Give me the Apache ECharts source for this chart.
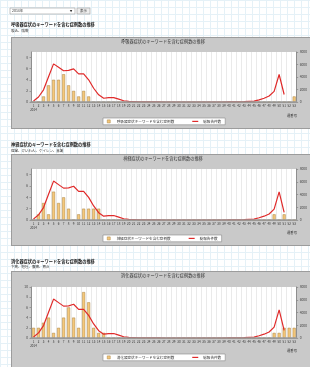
<!DOCTYPE html>
<html><head><meta charset="utf-8">
<script src="https://cdn.jsdelivr.net/npm/echarts@6/dist/echarts.min.js"></script>
<style>
html,body{margin:0;padding:0;}
#wrap{position:relative;width:310px;height:367px;overflow:hidden;background-color:#fff;
background-image:linear-gradient(#e5f1f7 1px,transparent 1px),linear-gradient(90deg,#e5f1f7 1px,transparent 1px);background-size:7px 7px;}
.panel{position:absolute;left:11px;width:310px;background:#c9c9c9;border:1px solid #9c9c9c;box-sizing:border-box;}
#c{position:absolute;left:0;top:0;width:310px;height:367px;}
</style></head><body>
<div id="wrap">
<div class="panel" style="top:37px;height:92px"></div>
<div class="panel" style="top:154px;height:92px"></div>
<div class="panel" style="top:271px;height:100px"></div>
<div id="c"></div>
</div>
<script>
const weeks = ['1','2','3','4','5','6','7','8','9','10','11','12','13','14','15','16','17','18','19','20','21','22','23','24','25','26','27','28','29','30','31','32','33','34','35','36','37','38','39','40','41','42','43','44','45','46','47','48','49','50','51','52','53'];
const yearLabel = '2014';
const weekAxisName = '週番号';
const lineName = '総報告件数';

const respiratory = [0,0,1,3,4,4,5,3,2,1,2,1,0,0,0,0,0,0,0,0,0,0,0,0,0,0,0,0,0,0,0,0,0,0,0,0,0,0,0,0,0,0,0,0,0,0,0,0,0,0,0,0,1];
const neuro =       [0,1,3,1,5,3,4,2,0,1,2,2,2,2,0,0,0,0,0,0,0,0,0,0,0,0,0,0,0,0,0,0,0,0,0,0,0,0,0,0,0,0,0,0,0,0,0,0,1,0,1,0,0];
const digestive =   [2,2,3,4,1,2,4,6,4,2,9,7,2,1,1,0,0,0,0,0,0,0,0,0,0,0,0,0,0,0,0,0,0,0,0,0,0,0,0,0,0,0,0,0,0,0,0,0,1,1,2,2,2];
const totalReports = [150,800,1950,4050,6100,5550,5000,5050,5300,4500,4500,3550,2200,1150,600,700,700,450,200,100,80,40,
  30,20,10,10,0,0,0,0,0,0,0,0,0,0,0,0,0,10,20,30,
  50,100,150,350,600,950,1700,4400,1200];

const panels = [
  {title:'呼吸器症状のキーワードを含む症例数の推移', sub:'咳込、咳嗽', inner:'呼吸器症状のキーワードを含む症例数の推移', barName:'呼吸器症状キーワードを含む症例数', data:respiratory, leftMax:9},
  {title:'神経症状のキーワードを含む症例数の推移', sub:'痙攣、けいれん、ケイレン、意識', inner:'神経症状のキーワードを含む症例数の推移', barName:'神経症状キーワードを含む症例数', data:neuro, leftMax:9},
  {title:'消化器症状のキーワードを含む症例数の推移', sub:'下痢、嘔吐、腹痛、胃炎', inner:'消化器症状のキーワードを含む症例数の推移', barName:'消化器症状キーワードを含む症例数', data:digestive, leftMax:10}
];
const layout = [
  {titleY:24, subY:31, innerY:41, gridTop:52, gridH:50, legendTop:118, weekY:116},
  {titleY:144, subY:151, innerY:158, gridTop:169, gridH:51, legendTop:235, weekY:233},
  {titleY:261, subY:267, innerY:275, gridTop:287, gridH:51, legendTop:354, weekY:351}
];

const FONT = '"Noto Sans CJK JP", "Noto Sans", sans-serif';
const grid=[], xAxis=[], yAxis=[], series=[], legend=[], graphic=[];

graphic.push({type:'rect', shape:{x:10,y:8,width:65,height:6}, style:{fill:'#fff',stroke:'#9a9a9a',lineWidth:0.6}, z:50});
graphic.push({type:'text', x:12, y:11, style:{text:'2014年', fontSize:3.5, fill:'#333', verticalAlign:'middle', fontFamily:FONT}, z:51});
graphic.push({type:'text', x:71, y:11, style:{text:'▼', fontSize:2.6, fill:'#333', verticalAlign:'middle', align:'center', fontFamily:FONT}, z:51});
graphic.push({type:'rect', shape:{x:77,y:8,width:13,height:6}, style:{fill:'#eeeeee',stroke:'#9a9a9a',lineWidth:0.6}, z:50});
graphic.push({type:'text', x:83.5, y:11, style:{text:'表示', fontSize:3.5, fill:'#333', verticalAlign:'middle', align:'center', fontFamily:FONT}, z:51});

panels.forEach((p,i)=>{
  const L = layout[i];
  graphic.push({type:'text', x:11, y:L.titleY, style:{text:p.title, fontSize:4.2, fontWeight:'bold', fill:'#1a1a1a', verticalAlign:'middle', fontFamily:FONT}, z:51});
  graphic.push({type:'text', x:11, y:L.subY, style:{text:p.sub, fontSize:3.5, fill:'#333', verticalAlign:'middle', fontFamily:FONT}, z:51});
  graphic.push({type:'text', x:163, y:L.innerY, style:{text:p.inner, fontSize:4.2, fill:'#333', verticalAlign:'middle', align:'center', fontFamily:FONT}, z:51});
  graphic.push({type:'text', x:292, y:L.weekY, style:{text:weekAxisName, fontSize:3.3, fill:'#333', verticalAlign:'middle', align:'center', fontFamily:FONT}, z:51});

  grid.push({left:31, right:12, top:L.gridTop, height:L.gridH, show:true, backgroundColor:'#fff', borderWidth:0, containLabel:false});
  xAxis.push({type:'category', gridIndex:i, data:weeks, boundaryGap:true, position:'bottom',
    axisLine:{show:true, lineStyle:{color:'#999', width:1}}, axisTick:{show:false},
    axisLabel:{interval:0, fontSize:3, color:'#333', margin:2, lineHeight:4, fontFamily:FONT,
      formatter:(v,idx)=> idx===0 ? v+'\n'+yearLabel : v},
    splitLine:{show:true, interval:0, lineStyle:{color:'#dcdcdc', width:0.6}}});
  xAxis.push({type:'category', gridIndex:i, data:weeks, position:'bottom', z:5,
    axisLine:{show:true, lineStyle:{color:'#999', width:1.6}}, axisTick:{show:false}, axisLabel:{show:false}, splitLine:{show:false}});
  yAxis.push({type:'value', gridIndex:i, position:'left', min:0, max:p.leftMax, interval:2,
    axisLine:{show:true, lineStyle:{color:'#777', width:0.8}}, axisTick:{show:true, length:1.5, lineStyle:{color:'#777', width:0.6}},
    axisLabel:{fontSize:3.3, color:'#444', margin:3, showMaxLabel:p.leftMax%2===0, fontFamily:FONT}, splitLine:{show:false}});
  yAxis.push({type:'value', gridIndex:i, position:'right', min:0, max:8000, interval:2000,
    axisLine:{show:true, lineStyle:{color:'#777', width:0.8}}, axisTick:{show:true, length:1.5, lineStyle:{color:'#777', width:0.6}},
    axisLabel:{fontSize:3.3, color:'#444', margin:3, fontFamily:FONT, formatter:v=>String(v)}, splitLine:{show:false}});
  series.push({type:'bar', name:p.barName, xAxisIndex:2*i, yAxisIndex:2*i, data:p.data, barWidth:'60%',
    itemStyle:{color:'#f5c87a', borderColor:'#a88040', borderWidth:0.5}, animation:false});
  series.push({type:'line', name:lineName, xAxisIndex:2*i, yAxisIndex:2*i+1, data:totalReports, symbol:'none',
    lineStyle:{color:'#e02a2a', width:1.2}, itemStyle:{color:'#e02a2a'}, animation:false, z:3});
  legend.push({top:L.legendTop, left:103, selectedMode:false, backgroundColor:'#fff', borderColor:'#888', borderWidth:0.6,
    padding:[1.6,4], itemGap:18, itemWidth:6, itemHeight:3,
    textStyle:{fontSize:3.6, color:'#333', fontFamily:FONT},
    data:[{name:p.barName, icon:'path://M0,0h10v10h-10z', itemStyle:{color:'#f5c87a', borderColor:'#a88040', borderWidth:0.5}},
          {name:lineName, icon:'path://M0,0h10v2h-10z', itemStyle:{color:'#e02a2a'}}]});
});

const chart = echarts.init(document.getElementById('c'), null, {renderer:'canvas'});
chart.setOption({animation:false, backgroundColor:'transparent', textStyle:{fontFamily:FONT},
  grid, xAxis, yAxis, series, legend, graphic:{elements:graphic}});
</script>
</body></html>
